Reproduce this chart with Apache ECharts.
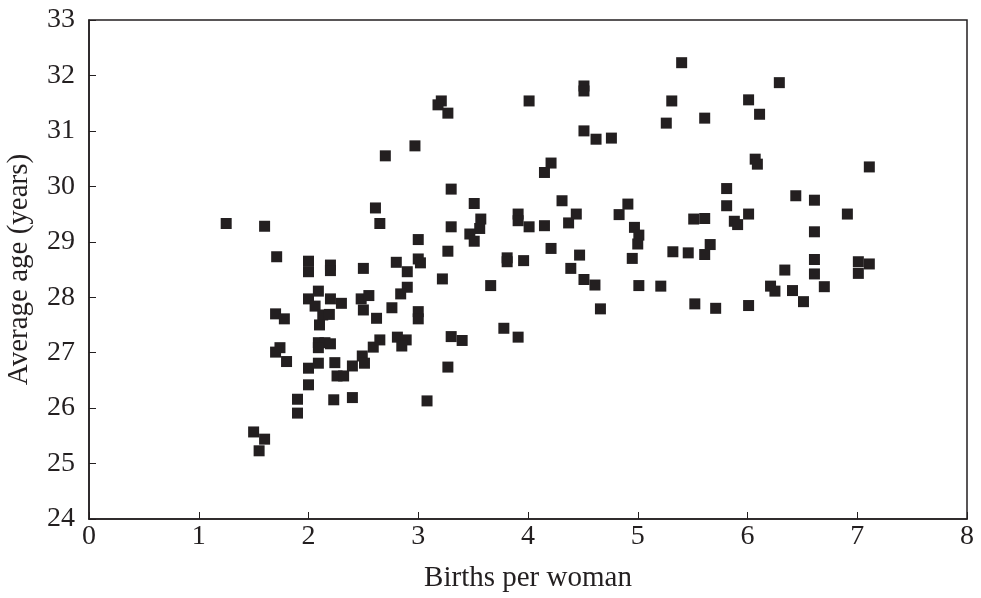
<!DOCTYPE html>
<html>
<head>
<meta charset="utf-8">
<script src="https://cdn.jsdelivr.net/npm/echarts@6/dist/echarts.min.js"></script>
<style>html,body{margin:0;padding:0;background:#fff}#chart{width:981px;height:598px}</style>
</head>
<body>
<div id="chart"></div>
<script>
const xTitle = 'Births per woman';
const yTitle = 'Average age (years)';
const births = [
 2.61,1.25,1.60,2.65,3.00,1.71,2.00,2.00,2.20,2.20,2.50,2.80,2.90,3.00,3.02,2.90,2.84,2.09,2.00,2.06,
 2.20,2.30,2.48,2.55,2.50,2.76,3.00,3.00,1.70,1.78,2.13,2.19,2.10,2.62,2.09,2.15,2.20,2.09,1.74,1.70,
 1.80,2.00,2.09,2.24,2.40,2.49,2.51,2.59,2.65,2.81,2.89,2.85,2.26,2.32,2.00,1.90,1.90,2.23,2.40,3.08,
 1.50,1.60,1.55,3.22,
 4.51,4.51,3.21,3.18,3.27,4.01,4.51,4.62,4.76,2.97,2.70,4.21,4.15,3.30,3.51,4.31,3.30,3.57,3.56,3.47,
 3.51,3.91,3.91,4.01,4.15,4.44,4.37,4.83,3.27,4.21,3.81,3.81,3.96,4.47,4.39,4.51,4.61,3.66,4.91,4.97,
 5.01,5.00,5.32,4.95,5.01,5.21,4.66,3.78,3.91,3.30,3.40,3.27,
 5.40,6.29,5.31,6.01,6.11,5.26,5.61,6.07,6.09,7.11,5.81,6.44,6.61,5.81,6.01,6.91,5.51,5.61,5.88,5.91,
 6.61,5.46,5.66,5.61,6.61,6.61,6.34,7.01,7.11,7.01,6.21,6.25,6.41,6.70,6.51,5.52,5.71,6.01
];
const ages = [
 29.61,29.33,29.28,29.33,29.04,28.73,28.65,28.46,28.58,28.48,28.52,28.63,28.46,28.69,28.62,28.18,28.06,28.11,27.97,27.84,
 27.97,27.89,27.97,28.03,27.77,27.81,27.74,27.61,27.70,27.61,27.68,27.69,27.50,27.62,27.18,27.18,27.16,27.09,27.09,27.01,
 26.84,26.72,26.81,26.82,26.76,26.94,26.81,27.10,27.23,27.28,27.23,27.12,26.58,26.58,26.42,26.16,25.91,26.15,26.19,26.13,
 25.57,25.44,25.23,28.33,
 31.81,31.72,31.54,31.47,31.32,31.54,31.00,30.85,30.87,30.73,30.55,30.42,30.25,29.95,29.69,29.74,29.27,29.41,29.24,29.14,
 29.01,29.50,29.38,29.27,29.29,29.50,29.34,29.49,28.83,28.88,28.71,28.64,28.66,28.76,28.52,28.32,28.22,28.21,29.68,29.26,
 29.12,28.96,28.82,28.70,28.21,28.20,27.79,27.44,27.28,27.29,27.22,26.74,
 32.23,31.87,31.54,31.56,31.30,31.14,31.23,30.49,30.40,30.35,29.96,29.83,29.75,29.65,29.50,29.50,29.41,29.42,29.37,29.31,
 29.18,28.80,28.95,28.77,28.68,28.42,28.49,28.64,28.60,28.43,28.20,28.11,28.12,28.19,27.92,27.88,27.80,27.85
];
const points = births.map((b, i) => [b, ages[i]]);
const ink = '#231f20';
const font = 'Liberation Serif';
const chart = echarts.init(document.getElementById('chart'), null, {renderer: 'canvas'});
chart.setOption({
  animation: false,
  backgroundColor: '#fff',
  grid: {left: 89, right: 14, top: 20, bottom: 79, containLabel: false, outerBoundsMode: 'none',
         show: true, borderColor: ink, borderWidth: 1.5, backgroundColor: 'transparent'},
  xAxis: {
    type: 'value', min: 0, max: 8, interval: 1,
    name: xTitle, nameLocation: 'middle', nameGap: 45,
    nameTextStyle: {fontFamily: font, fontSize: 29, color: ink},
    axisLine: {show: true, lineStyle: {color: ink, width: 1.5}},
    axisTick: {show: true, inside: true, length: 7, lineStyle: {color: ink, width: 1}},
    axisLabel: {fontFamily: font, fontSize: 28, color: ink, margin: 4},
    splitLine: {show: false}
  },
  yAxis: {
    type: 'value', min: 24, max: 33, interval: 1,
    name: yTitle, nameLocation: 'middle', nameGap: 55, nameRotate: 90,
    nameTextStyle: {fontFamily: font, fontSize: 29, color: ink},
    axisLine: {show: true, lineStyle: {color: ink, width: 1.5}},
    axisTick: {show: true, inside: true, length: 7, lineStyle: {color: ink, width: 1}},
    axisLabel: {fontFamily: font, fontSize: 28, color: ink, margin: 14},
    splitLine: {show: false}
  },
  series: [{
    type: 'scatter',
    data: points,
    symbol: 'rect',
    symbolSize: 11,
    itemStyle: {color: ink, opacity: 1}
  }]
});
</script>
</body>
</html>
